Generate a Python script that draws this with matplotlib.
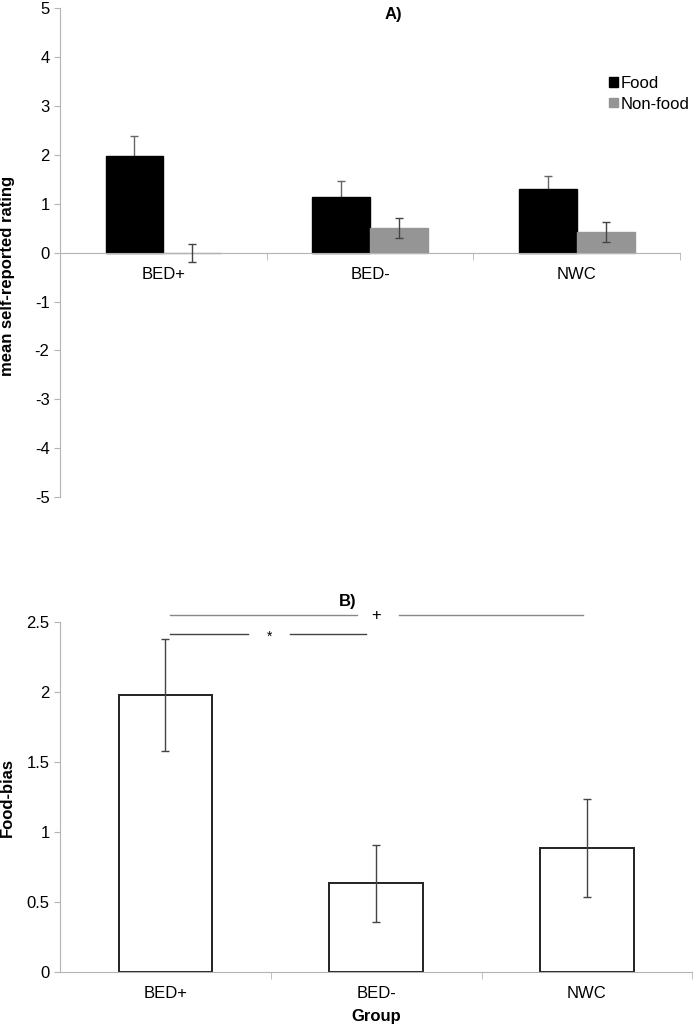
import numpy as np
import matplotlib.pyplot as plt

plt.rcParams['font.family'] = ['Liberation Sans', 'DejaVu Sans']
plt.rcParams['axes.unicode_minus'] = False

# data
groups = ['BED+', 'BED-', 'NWC']
food_mean = [1.97, 1.13, 1.30]
food_err = [0.41, 0.34, 0.26]
nonfood_mean = [0.0, 0.51, 0.43]
nonfood_err = [0.185, 0.205, 0.205]

bias_mean = [1.98, 0.635, 0.884]
bias_err = [0.40, 0.275, 0.35]

axis_grey = '#b4b4b4'
x = np.arange(len(groups))

fig = plt.figure(figsize=(6.94, 10.27), dpi=100)

# ---- panel A
ax1 = fig.add_axes([0.0865, 0.516, 0.8935, 0.476])
w = 0.28
ax1.bar(x - w / 2, food_mean, w, color='black', edgecolor='black', label='Food', zorder=2)
ax1.bar(x + w / 2, nonfood_mean, w, color='#959595', edgecolor='#959595', label='Non-food', zorder=2)
# food error bars sit behind the black bars, only the upper half shows
ax1.errorbar(x - w / 2, food_mean, yerr=food_err, fmt='none', ecolor='#666666',
             elinewidth=1, capsize=3, capthick=1, zorder=1)
ax1.errorbar(x + w / 2, nonfood_mean, yerr=nonfood_err, fmt='none', ecolor='#444444',
             elinewidth=1, capsize=3, capthick=1, zorder=3)
ax1.set_xlim(-0.5, 2.5)
ax1.set_ylim(-5, 5)
ax1.set_yticks(range(-5, 6))
ax1.spines['bottom'].set_position(('data', 0))
ax1.text(0.537, 0.987, 'A)', transform=ax1.transAxes, fontsize=12, fontweight='bold',
         ha='center', va='center')
ax1.set_ylabel('mean self-reported rating', fontsize=12, fontweight='bold')
ax1.yaxis.set_label_coords(-0.072, 0.452)
leg = ax1.legend(loc='upper left', bbox_to_anchor=(0.886, 0.862), frameon=False, fontsize=12,
                 handlelength=0.5, handleheight=0.5, handletextpad=0.2, labelspacing=0.35,
                 borderpad=0, borderaxespad=0)

# ---- panel B
ax2 = fig.add_axes([0.0865, 0.0535, 0.911, 0.3405])
ax2.bar(x, bias_mean, 0.445, color='white', edgecolor='#222222', linewidth=1.4, zorder=2)
ax2.errorbar(x, bias_mean, yerr=bias_err, fmt='none', ecolor='#444444',
             elinewidth=1, capsize=3, capthick=1, zorder=3)
ax2.set_xlim(-0.5, 2.5)
ax2.set_ylim(0, 2.5)
ax2.set_yticks([0, 0.5, 1, 1.5, 2, 2.5])
ax2.set_yticklabels(['0', '0.5', '1', '1.5', '2', '2.5'])
ax2.set_ylabel('Food-bias', fontsize=12, fontweight='bold')
ax2.yaxis.set_label_coords(-0.072, 0.5)
ax2.set_xlabel('Group', fontsize=12, fontweight='bold', labelpad=6)
ax2.text(0.455, 1.06, 'B)', transform=ax2.transAxes, fontsize=12, fontweight='bold',
         ha='center', va='center')

# significance brackets
ax2.plot([0.02, 0.91], [2.552, 2.552], color='#888888', lw=1, clip_on=False)
ax2.plot([1.109, 1.98], [2.552, 2.552], color='#888888', lw=1, clip_on=False)
ax2.text(1.0, 2.552, '+', ha='center', va='center', fontsize=12, clip_on=False)
ax2.plot([0.02, 0.392], [2.42, 2.42], color='#444444', lw=1, clip_on=False)
ax2.plot([0.592, 0.952], [2.42, 2.42], color='#444444', lw=1, clip_on=False)
ax2.text(0.492, 2.40, '*', ha='center', va='center', fontsize=10, clip_on=False)

for ax in (ax1, ax2):
    ax.spines['top'].set_visible(False)
    ax.spines['right'].set_visible(False)
    ax.spines['left'].set_color(axis_grey)
    ax.spines['bottom'].set_color(axis_grey)
    ax.set_xticks(x)
    ax.set_xticklabels(groups)
    ax.set_xticks([0.5, 1.5, 2.5], minor=True)
    ax.tick_params(axis='x', which='major', length=0, labelsize=12, pad=10)
    ax.tick_params(axis='x', which='minor', length=5, color=axis_grey)
    ax.tick_params(axis='y', length=4, color=axis_grey, labelsize=12)

fig.savefig('out.png', dpi=100)
